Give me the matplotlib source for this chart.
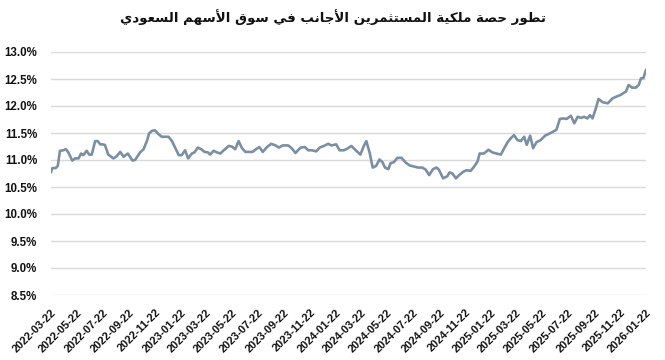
import numpy as np
import matplotlib
matplotlib.use("Agg")
import matplotlib.pyplot as plt

# ---------------- data ----------------
start_date = "2022-03-22"
day_offsets = [
    0, 3, 11, 16, 21, 29, 35, 41, 50, 57, 65, 71, 76, 84, 90, 96, 104, 110, 116, 121,
    127, 135, 147, 155, 163, 171, 181, 192, 198, 210, 218, 226, 231, 238, 245, 253, 261,
    269, 277, 285, 293, 301, 308, 316, 323, 332, 338, 346, 354, 362, 370, 375, 383, 391,
    399, 407, 419, 426, 434, 442, 450, 458, 467,
    475, 483, 491, 499, 509, 519, 529, 537, 546, 559, 568, 576, 588, 598, 606, 615, 625,
    633, 643, 653, 661, 672, 680, 690, 698, 708, 718, 729, 737, 743, 751, 758, 766, 774,
    781, 787, 795, 800, 808, 816, 826, 836, 845, 855, 865, 875, 883, 891, 900, 908, 914,
    924, 934, 939,
    946, 954, 963, 971, 979, 989, 997, 1005, 1010, 1020, 1031, 1040, 1050, 1060, 1068,
    1076, 1083, 1091, 1099, 1107, 1115, 1121, 1129, 1136, 1144, 1154, 1164, 1172, 1182,
    1191, 1199, 1207, 1215, 1225, 1233, 1241, 1249, 1256, 1264, 1270, 1276, 1284, 1290,
    1300, 1312, 1323, 1331, 1341, 1351, 1355, 1361, 1369, 1378, 1385, 1390, 1396, 1402,
]
share_pct = [
    10.77, 10.85, 10.85, 10.89, 11.17, 11.18, 11.20, 11.14, 10.99, 11.03, 11.03, 11.12,
    11.09, 11.17, 11.10, 11.10, 11.35, 11.35, 11.29, 11.29, 11.28, 11.10, 11.03, 11.07,
    11.15, 11.06, 11.12, 10.99, 11.00, 11.14, 11.20, 11.35, 11.49, 11.54, 11.55, 11.48,
    11.43, 11.43, 11.43, 11.35, 11.22, 11.09, 11.09, 11.18, 11.03, 11.12, 11.14, 11.23,
    11.20, 11.15, 11.14, 11.10, 11.17, 11.14, 11.12, 11.18, 11.26, 11.25, 11.20, 11.35,
    11.22, 11.15, 11.15,
    11.15, 11.20, 11.24, 11.15, 11.24, 11.30, 11.27, 11.23, 11.27, 11.27, 11.21, 11.13,
    11.23, 11.24, 11.18, 11.18, 11.16, 11.23, 11.26, 11.30, 11.27, 11.29, 11.18, 11.18,
    11.21, 11.26, 11.18, 11.10, 11.26, 11.35, 11.13, 10.86, 10.89, 11.01, 10.96, 10.86,
    10.83, 10.94, 10.96, 11.04, 11.04, 10.95, 10.90, 10.88, 10.86, 10.86, 10.82, 10.72,
    10.83, 10.86, 10.82, 10.66, 10.70, 10.77,
    10.75, 10.66, 10.73, 10.78, 10.81, 10.80, 10.88, 10.97, 11.12, 11.12, 11.19, 11.14,
    11.12, 11.10, 11.22, 11.33, 11.40, 11.46, 11.37, 11.35, 11.43, 11.28, 11.45, 11.22,
    11.33, 11.37, 11.45, 11.48, 11.52, 11.56, 11.76, 11.77, 11.76, 11.82, 11.68, 11.80,
    11.78, 11.80, 11.77, 11.83, 11.77, 11.96, 12.13, 12.07, 12.05, 12.14, 12.17, 12.20,
    12.25, 12.27, 12.39, 12.34, 12.34, 12.39, 12.51, 12.52, 12.67,
]
x_tick_labels = [
    "2022-03-22", "2022-05-22", "2022-07-22", "2022-09-22", "2022-11-22", "2023-01-22",
    "2023-03-22", "2023-05-22", "2023-07-22", "2023-09-22", "2023-11-22", "2024-01-22",
    "2024-03-22", "2024-05-22", "2024-07-22", "2024-09-22", "2024-11-22", "2025-01-22",
    "2025-03-22", "2025-05-22", "2025-07-22", "2025-09-22", "2025-11-22", "2026-01-22",
]
y_ticks = [8.5, 9.0, 9.5, 10.0, 10.5, 11.0, 11.5, 12.0, 12.5, 13.0]
title_text = "تطور حصة ملكية المستثمرين الأجانب في سوق الأسهم السعودي"


# ---------------- minimal Arabic shaping (presentation forms, visual order) ----------------
DUAL = {'ب': 0xFE8F, 'ت': 0xFE95, 'ث': 0xFE99, 'ج': 0xFE9D, 'ح': 0xFEA1, 'خ': 0xFEA5,
        'س': 0xFEB1, 'ش': 0xFEB5, 'ص': 0xFEB9, 'ض': 0xFEBD, 'ط': 0xFEC1, 'ظ': 0xFEC5,
        'ع': 0xFEC9, 'غ': 0xFECD, 'ف': 0xFED1, 'ق': 0xFED5, 'ك': 0xFED9, 'ل': 0xFEDD,
        'م': 0xFEE1, 'ن': 0xFEE5, 'ه': 0xFEE9, 'ي': 0xFEF1}
RIGHT = {'ا': 0xFE8D, 'أ': 0xFE83, 'إ': 0xFE87, 'آ': 0xFE81, 'ة': 0xFE93, 'د': 0xFEA9,
         'ذ': 0xFEAB, 'ر': 0xFEAD, 'ز': 0xFEAF, 'و': 0xFEED, 'ى': 0xFEEF}
LAMALEF = {'ا': 0xFEFB, 'أ': 0xFEF7, 'إ': 0xFEF9, 'آ': 0xFEF5}


def shape_word(w):
    out, i, n = [], 0, len(w)
    while i < n:
        c = w[i]
        prev_joins = i > 0 and w[i - 1] in DUAL
        if c == 'ل' and i + 1 < n and w[i + 1] in LAMALEF:
            out.append(chr(LAMALEF[w[i + 1]] + (1 if prev_joins else 0)))
            i += 2
            continue
        next_joins = i + 1 < n and (w[i + 1] in DUAL or w[i + 1] in RIGHT)
        if c in DUAL:
            b = DUAL[c]
            if prev_joins and next_joins:
                f = b + 3
            elif prev_joins:
                f = b + 1
            elif next_joins:
                f = b + 2
            else:
                f = b
            out.append(chr(f))
        elif c in RIGHT:
            out.append(chr(RIGHT[c] + (1 if prev_joins else 0)))
        else:
            out.append(c)
        i += 1
    return ''.join(out)


def arabic_visual(s):
    return ' '.join(shape_word(w) for w in s.split(' '))[::-1]


# ---------------- plot ----------------
dates = np.datetime64(start_date) + np.array(day_offsets).astype("timedelta64[D]")
tick_dates = np.array(x_tick_labels, dtype="datetime64[D]")

fig = plt.figure(figsize=(6.65, 3.6), dpi=100)
ax = fig.add_axes([51 / 665, 1 - 295 / 360, (646 - 51) / 665, (295 - 52) / 360])

ax.plot(dates, share_pct, color="#7b8fa3", lw=1.9, solid_joinstyle="round",
        solid_capstyle="round", zorder=3)

ax.set_ylim(8.5, 13.0)
ax.set_xlim(dates[0], dates[-1])
ax.set_yticks(y_ticks)
ax.set_yticklabels([f"{v:.1f}%" for v in y_ticks])
ax.set_xticks(tick_dates)
ax.set_xticklabels(x_tick_labels, rotation=45, ha="right", va="top",
                   rotation_mode="anchor")

for lab in ax.get_yticklabels():
    lab.set_fontfamily("Liberation Sans")
    lab.set_fontweight("bold")
    lab.set_fontsize(8.3)
    lab.set_color("#111111")
for lab in ax.get_xticklabels():
    lab.set_fontfamily("Liberation Sans")
    lab.set_fontweight("bold")
    lab.set_fontsize(7.9)
    lab.set_color("#111111")

ax.tick_params(axis="y", length=0, pad=10)
ax.tick_params(axis="x", length=0, pad=9)
ax.grid(axis="y", color="#d9d9d9", lw=1.0, zorder=0)
ax.grid(axis="x", visible=False)
for sp in ax.spines.values():
    sp.set_visible(False)

fig.text(0.5, 1 - 17 / 360, arabic_visual(title_text), ha="center", va="center",
         fontsize=9.6, fontweight="bold", family=["DejaVu Sans"], color="#111111")

fig.savefig("out.png", dpi=100, facecolor="white")
